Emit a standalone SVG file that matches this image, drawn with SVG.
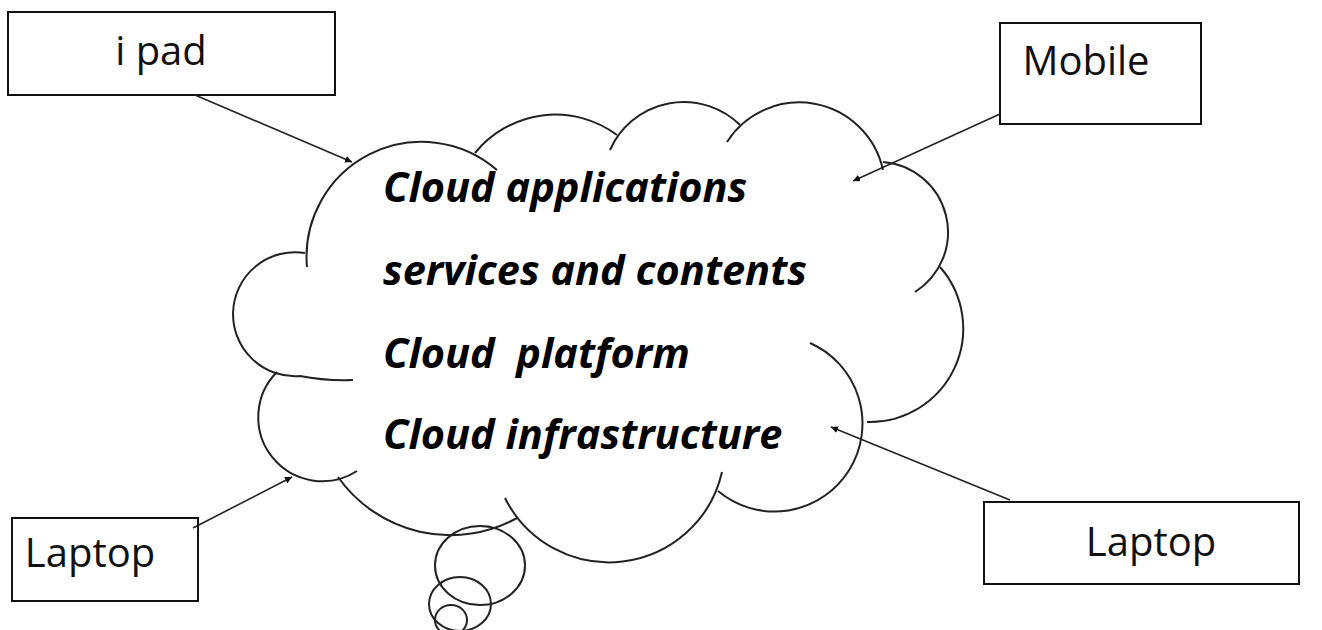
<svg xmlns="http://www.w3.org/2000/svg" width="1322" height="630" viewBox="0 0 1322 630">
<defs>
<style>
.box{fill:#fff;stroke:#111;stroke-width:2}
.lbl{font-family:"Open Sans","Liberation Sans",sans-serif;font-size:40px;fill:#111;text-anchor:middle}
.ct{font-family:"Open Sans","Liberation Sans",sans-serif;font-size:41.5px;font-weight:bold;font-style:italic;fill:#000;white-space:pre}
.cl{fill:none;stroke:#222;stroke-width:2}
.con{fill:none;stroke:#222;stroke-width:1.6;marker-end:url(#ah)}
</style>
<marker id="ah" viewBox="0 0 10 10" refX="10" refY="5" markerWidth="7" markerHeight="7" markerUnits="userSpaceOnUse" orient="auto">
<path d="M0,0 L10,5 L0,10 z" fill="#111"/>
</marker>
</defs>
<rect width="1322" height="630" fill="#fff"/>
<g id="cloud">
<path class="cl" d="M307,267 A115 115 0 0 1 497,170"/>
<path class="cl" d="M475,153 A103.4 103.4 0 0 1 617,135"/>
<path class="cl" d="M610,150 A80.5 80.5 0 0 1 740,125"/>
<path class="cl" d="M727,142 A85.7 85.7 0 0 1 883,170"/>
<path class="cl" d="M883,162 A70.5 70.5 0 0 1 915,292"/>
<path class="cl" d="M940,267 A93.4 93.4 0 0 1 867,422"/>
<path class="cl" d="M810,343 A88 88 0 1 1 718,491"/>
<path class="cl" d="M722,472 A116 116 0 0 1 505,498"/>
<path class="cl" d="M517,518 A137.7 137.7 0 0 1 338,477"/>
<path class="cl" d="M357,471 A64 64 0 0 1 277,372"/>
<path class="cl" d="M353,380 Q325,381 300,376 A62 62 0 1 1 305,253"/>
<ellipse class="cl" cx="480" cy="565.5" rx="45" ry="39.5"/>
<ellipse class="cl" cx="460" cy="604" rx="31" ry="27"/>
<ellipse class="cl" cx="451" cy="620" rx="16" ry="15"/>
<text class="ct" x="383" y="202">Cloud applications</text>
<text class="ct" x="383" y="285">services and contents</text>
<text class="ct" x="383" y="368" xml:space="preserve">Cloud  platform</text>
<text class="ct" x="383" y="449">Cloud infrastructure</text>
</g>
<g id="ipad">
<rect class="box" x="8" y="12" width="327" height="83"/>
<text class="lbl" x="161" y="65">i pad</text>
</g>
<g id="mobile">
<rect class="box" x="1000" y="23" width="201" height="101"/>
<text class="lbl" x="1086" y="75">Mobile</text>
</g>
<g id="laptop-left">
<rect class="box" x="12" y="518" width="186" height="83"/>
<text class="lbl" x="90" y="567">Laptop</text>
</g>
<g id="laptop-right">
<rect class="box" x="984" y="502" width="315" height="82"/>
<text class="lbl" x="1151" y="556">Laptop</text>
</g>
<g id="connectors">
<line class="con" x1="195" y1="95" x2="352" y2="162"/>
<line class="con" x1="1000" y1="114" x2="853" y2="181"/>
<line class="con" x1="193" y1="528" x2="292" y2="477"/>
<line class="con" x1="1010" y1="500" x2="831" y2="427"/>
</g>
</svg>
